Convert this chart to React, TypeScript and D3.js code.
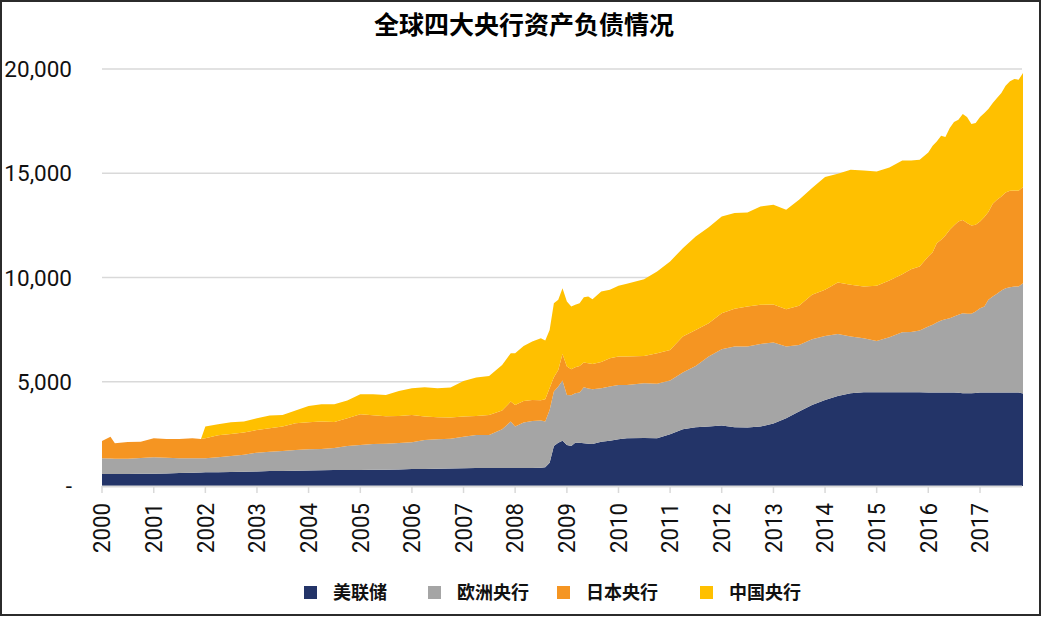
import React from 'react';
import * as d3 from 'd3';

// Dates (month) of the readings
const months: string[] = [
  '2000-01','2000-03','2000-04','2000-07','2000-10',
  '2001-01','2001-04','2001-07','2001-10','2001-12',
  '2002-01','2002-04','2002-07','2002-10',
  '2003-01','2003-04','2003-07','2003-10',
  '2004-01','2004-04','2004-07','2004-10',
  '2005-01','2005-04','2005-07','2005-10',
  '2006-01','2006-04','2006-07','2006-10',
  '2007-01','2007-04','2007-07','2007-10','2007-12',
  '2008-01','2008-03','2008-05','2008-07','2008-08','2008-09','2008-10','2008-11','2008-12',
  '2009-01','2009-02','2009-03','2009-04','2009-05','2009-06','2009-07','2009-09','2009-11',
  '2010-01','2010-03','2010-07','2010-10',
  '2011-01','2011-04','2011-07','2011-10',
  '2012-01','2012-04','2012-07','2012-10',
  '2013-01','2013-04','2013-07','2013-10',
  '2014-01','2014-04','2014-07','2014-10',
  '2015-01','2015-04','2015-07','2015-09','2015-11',
  '2016-01','2016-02','2016-03','2016-04','2016-05','2016-06',
  '2016-07','2016-08','2016-09','2016-10','2016-11','2016-12',
  '2017-01','2017-02','2017-03','2017-04','2017-05','2017-06',
  '2017-07','2017-08','2017-09','2017-10','2017-11',
];

// 美联储
const fed: number[] = [
  576,576,576,580,585,
  590,605,620,640,650,
  655,665,672,685,
  700,715,725,735,
  745,755,765,770,
  770,775,785,795,
  810,820,830,840,
  855,860,865,860,860,
  860,860,860,870,896,1120,1920,2080,2176,
  1968,1920,2080,2080,2048,2032,2016,2128,2176,
  2240,2288,2304,2288,
  2480,2720,2816,2848,
  2896,2816,2800,2848,
  3000,3248,3568,3888,
  4128,4320,4448,4496,
  4496,4496,4496,4496,4496,
  4490,4490,4490,4480,4480,4480,
  4480,4470,4450,4450,4450,4460,
  4480,4480,4490,4490,4490,4490,
  4490,4490,4480,4480,4440,
];

// 欧洲央行
const ecb: number[] = [
  752,744,736,732,755,
  786,745,708,688,678,
  673,711,768,819,
  900,933,955,993,
  1015,1021,1059,1150,
  1198,1241,1247,1269,
  1286,1388,1410,1432,
  1513,1588,1583,1860,2228,
  1988,2180,2260,2266,2192,2528,2608,2688,2880,
  2400,2432,2368,2400,2688,2640,2624,2560,2592,
  2608,2560,2624,2612,
  2576,2720,2944,3360,
  3664,3872,3888,3968,
  3880,3440,3200,3152,
  3072,2976,2720,2592,
  2464,2640,2880,2896,2960,
  3158,3238,3350,3456,3520,3568,
  3648,3738,3838,3806,3806,3908,
  4048,4128,4438,4598,4726,4886,
  4998,5046,5088,5088,5288,
];

// 日本央行
const boj: number[] = [
  832,1048,736,800,788,
  912,906,928,960,928,
  960,1056,1056,1056,
  1088,1120,1168,1280,
  1296,1312,1248,1328,
  1472,1376,1312,1296,
  1312,1120,1056,1008,
  960,912,960,896,960,
  1040,1040,1008,976,1072,1052,688,800,1280,
  1360,1248,1248,1280,1184,1216,1216,1264,1360,
  1360,1360,1312,1468,
  1472,1728,1728,1600,
  1728,1808,1920,1872,
  1820,1792,1872,2128,
  2208,2464,2480,2480,
  2640,2720,2784,3008,3072,
  3360,3488,3808,3872,4016,4240,
  4368,4480,4464,4352,4240,4160,
  4160,4288,4208,4448,4512,4512,
  4592,4624,4608,4592,4608,
];

// 中国央行
const pboc: number[] = [
  0,0,0,0,0,
  0,0,0,0,0,
  560,528,560,528,
  560,608,560,608,
  784,832,848,848,
  960,1008,1024,1200,
  1280,1408,1392,1440,
  1712,1840,1872,2192,2320,
  2480,2640,2800,2976,2816,2788,3552,3360,3152,
  3120,3008,2992,3008,3136,3200,3104,3376,3280,
  3392,3488,3680,3920,
  4240,4240,4480,4608,
  4640,4592,4512,4720,
  4788,4768,5088,5120,
  5408,5216,5520,5568,
  5488,5424,5456,5216,5120,
  4992,5104,4880,4992,4720,4880,
  4960,4880,5088,5088,4864,4880,
  5008,4992,4944,4832,4880,4960,
  5120,5248,5344,5328,5472,
];

const seriesNames = ['美联储', '欧洲央行', '日本央行', '中国央行'];
const seriesColors = ['#233468', '#a5a5a5', '#f59522', '#ffc000'];
const yTicks = [0, 5000, 10000, 15000, 20000];
const yearTicks = d3.range(2000, 2018);
const title = '全球四大央行资产负债情况';

const W = 1044;
const H = 620;
const X0 = 102;
const X1 = 1023;
const Y0 = 486;
const Y1 = 69;

export default function App() {
  const parse = d3.timeParse('%Y-%m');
  const rows = months.map((m, i) => ({
    date: parse(m) as Date,
    s0: fed[i],
    s1: ecb[i],
    s2: boj[i],
    s3: pboc[i],
  }));
  const keys = ['s0', 's1', 's2', 's3'];
  const stack = d3.stack<any>().keys(keys)(rows);

  const x = d3
    .scaleTime()
    .domain([new Date(2000, 0, 1), new Date(2017, 10, 1)])
    .range([X0, X1]);
  const y = d3.scaleLinear().domain([0, 20000]).range([Y0, Y1]);

  const area = d3
    .area<any>()
    .x((d) => x(d.data.date))
    .y0((d) => y(d[0]))
    .y1((d) => y(d[1]))
    .curve(d3.curveLinear);

  const fmt = (v: number) => (v === 0 ? '-' : d3.format(',')(v));

  const legendX = [304, 428, 557, 700];

  return (
    <svg
      width={W}
      height={H}
      style={{ position: 'absolute', left: 0, top: 0, background: '#fff' }}
    >
      <rect x={0} y={0} width={W} height={H} fill="#fff" />
      <rect x={1} y={1} width={1039} height={614} fill="none" stroke="#2b2b2b" strokeWidth={2} />
      <text
        x={524}
        y={34}
        textAnchor="middle"
        fontFamily="'Noto Sans CJK SC', sans-serif"
        fontWeight="bold"
        fontSize={25}
        fill="#000"
      >
        {title}
      </text>

      {yTicks.map((t) => (
        <g key={t}>
          {t > 0 && (
            <line x1={X0} x2={X1 - 1} y1={y(t)} y2={y(t)} stroke="#d9d9d9" strokeWidth={1.5} />
          )}
          <text
            x={72}
            y={y(t)}
            dy="0.36em"
            textAnchor="end"
            fontFamily="Roboto, sans-serif"
            fontSize={22.5}
            fill="#111"
          >
            {fmt(t)}
          </text>
        </g>
      ))}

      {stack.map((s, i) => (
        <path key={i} d={area(s) as string} fill={seriesColors[i]} />
      ))}

      <line x1={X0} x2={X1 - 1} y1={Y0 + 0.5} y2={Y0 + 0.5} stroke="#d9d9d9" strokeWidth={2} />
      {yearTicks.map((yr) => {
        const tx = x(new Date(yr, 0, 1));
        return (
          <g key={yr}>
            <line x1={tx} x2={tx} y1={Y0} y2={Y0 + 7} stroke="#d9d9d9" strokeWidth={1.5} />
            <text
              transform={`translate(${tx},503) rotate(-90)`}
              dy="0.36em"
              textAnchor="end"
              fontFamily="Roboto, sans-serif"
              fontSize={23}
              textLength={50}
              lengthAdjust="spacingAndGlyphs"
              fill="#111"
            >
              {yr}
            </text>
          </g>
        );
      })}

      {seriesNames.map((n, i) => (
        <g key={n}>
          <rect x={legendX[i]} y={586} width={13} height={13} fill={seriesColors[i]} />
          <text
            x={legendX[i] + 29}
            y={599}
            fontFamily="'Noto Sans CJK SC', sans-serif"
            fontWeight="bold"
            fontSize={18}
            fill="#111"
          >
            {n}
          </text>
        </g>
      ))}
    </svg>
  );
}
